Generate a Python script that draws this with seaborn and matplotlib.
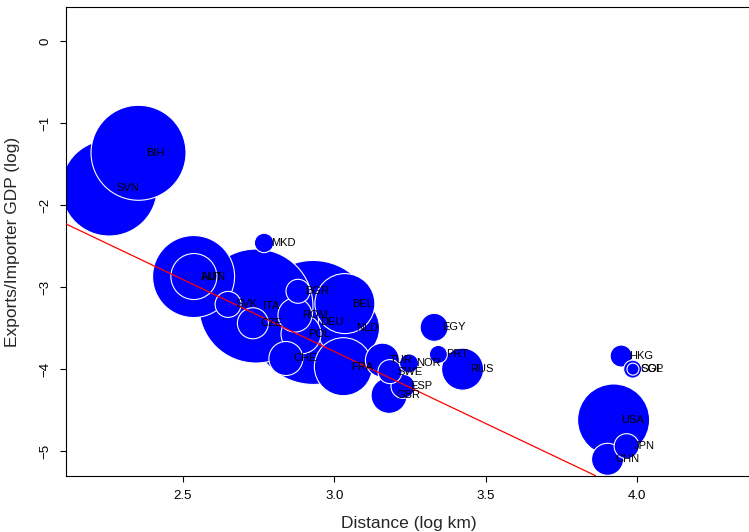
import matplotlib
matplotlib.use("Agg")
import matplotlib.pyplot as plt
import seaborn as sns
import pandas as pd

# exporter-partner pairs
countries = ["SVN", "BIH", "MKD", "HUN", "AUT", "ITA", "DEU", "BEL", "NLD", "ROM",
             "BGR", "POL", "CZE", "SVK", "CHE", "FRA", "TUR", "SWE", "NOR", "ESP",
             "GBR", "EGY", "PRT", "RUS", "HKG", "SGP", "COL", "USA", "JPN", "CHN"]
log_distance = [2.256, 2.353, 2.768, 2.535, 2.536, 2.741, 2.930, 3.035, 3.047, 2.870,
                2.880, 2.890, 2.731, 2.649, 2.840, 3.030, 3.159, 3.184, 3.247, 3.227,
                3.181, 3.330, 3.344, 3.424, 3.948, 3.986, 3.987, 3.923, 3.966, 3.903]
log_exports = [-1.79, -1.36, -2.46, -2.87, -2.87, -3.23, -3.43, -3.20, -3.50, -3.34,
               -3.05, -3.57, -3.44, -3.21, -3.87, -3.97, -3.89, -4.03, -3.93, -4.21,
               -4.32, -3.49, -3.82, -4.00, -3.84, -4.00, -4.00, -4.62, -4.94, -5.10]
# bubble weight (proportional to radius)
weight = [48, 47.5, 9.7, 41, 23, 57, 62, 30, 31, 17,
          12, 20, 15.5, 13, 17, 29, 17, 12, 9.5, 12,
          18, 14, 9, 21, 11, 9, 6, 36, 12.5, 16]

fit_intercept = 1.48
fit_slope = -1.755

x_ticks = [2.5, 3.0, 3.5, 4.0]
y_ticks = [0, -1, -2, -3, -4, -5]

df = pd.DataFrame({"country": countries, "dist": log_distance,
                   "ratio": log_exports, "weight": weight})
df["area"] = df["weight"] ** 2
df = df.sort_values("weight", ascending=False).reset_index(drop=True)

sns.set_style("ticks")
plt.rcParams["font.family"] = ["Liberation Sans", "DejaVu Sans"]

fig = plt.figure(figsize=(7.49, 5.32), dpi=100)
ax = fig.add_axes([66 / 749, 56.3 / 532, (752 - 66) / 749, 468.4 / 532])

# largest bubble radius in pixels -> marker area in pt^2
r_max = 62
k = (2 * 0.72 * r_max / df["weight"].max()) ** 2
amin, amax = df["area"].min(), df["area"].max()
sns.scatterplot(data=df, x="dist", y="ratio", size="area",
                sizes=(k * amin, k * amax), size_norm=(amin, amax),
                color="#0000ff", edgecolor="white", linewidth=0.8,
                alpha=1, legend=False, ax=ax, zorder=2)

ax.axline((0, fit_intercept), slope=fit_slope, color="red", lw=0.9, zorder=3)

for _, row in df.iterrows():
    ax.annotate(row["country"], (row["dist"], row["ratio"]), xytext=(5.4, 0),
                textcoords="offset points", ha="left", va="center",
                fontsize=8, color="black", zorder=4)

ax.set_xlim(2.5 - (183 - 66) / 302.6, 2.5 + (752 - 183) / 302.6)
ax.set_ylim(-5.30, 0.415)
ax.set_xticks(x_ticks)
ax.set_xticklabels([f"{t:.1f}" for t in x_ticks])
ax.set_yticks(y_ticks)
ax.set_yticklabels([f"{t}".replace("-", "\u2212") for t in y_ticks],
                   rotation=90, va="center")
ax.tick_params(direction="out", length=4.3, width=0.8, labelsize=9.5,
               colors="black", pad=6)

for side in ["left", "top", "bottom"]:
    ax.spines[side].set_color("black")
    ax.spines[side].set_linewidth(0.8)
ax.spines["right"].set_visible(False)

ax.set_xlabel("Distance (log km)", fontsize=12.5)
ax.set_ylabel("Exports/Importer GDP (log)", fontsize=12.5)
ax.xaxis.set_label_coords(0.5, -0.101)
ax.xaxis.label.set_va("center")
ax.yaxis.set_label_coords(-(66 - 12.5) / 686, 0.5)
ax.yaxis.label.set_va("center")

fig.savefig("out.png", dpi=100)
